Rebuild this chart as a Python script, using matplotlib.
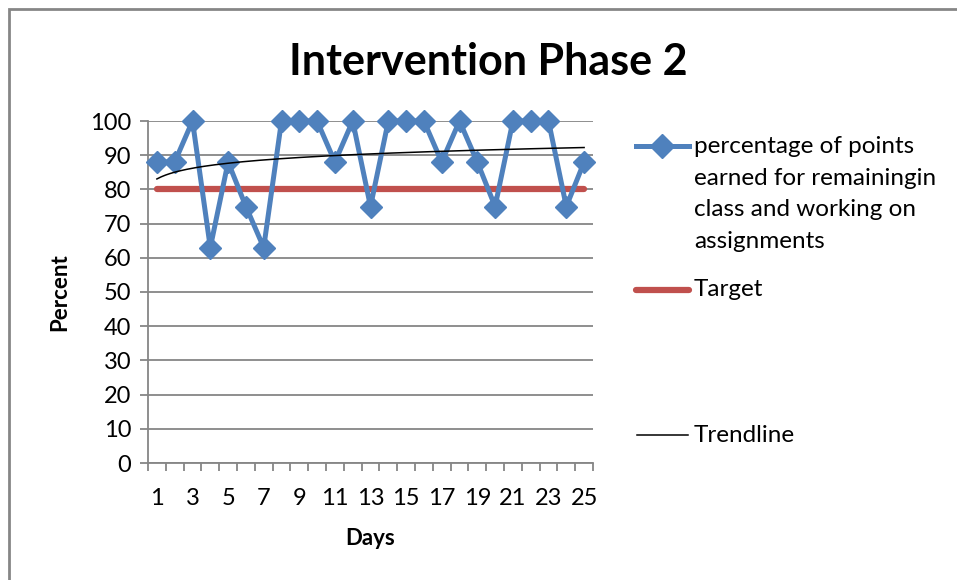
import matplotlib.pyplot as plt
import numpy as np
from matplotlib.lines import Line2D
from matplotlib.patches import Rectangle

plt.rcParams['font.family'] = ['Lato', 'DejaVu Sans']

days = np.arange(1, 26)
percent = [88, 88, 100, 63, 88, 75, 63, 100, 100, 100, 88, 100, 75,
           100, 100, 100, 88, 100, 88, 75, 100, 100, 100, 75, 88]
target = [80] * 25
series_label = 'percentage of points\nearned for remainingin\nclass and working on\nassignments'

blue = '#4F81BD'
red = '#C0504D'
grey = '#868686'

# logarithmic trendline like excel
a, b = np.polyfit(np.log(days), percent, 1)
trend_x = np.linspace(1, 25, 200)
trend_y = a * np.log(trend_x) + b

fig = plt.figure(figsize=(9.57, 5.8), dpi=100)
ax = fig.add_axes([148 / 957, 1 - 463 / 580, 445 / 957, 342 / 580])

ax.plot(days, target, color=red, lw=4.5, solid_capstyle='round', zorder=3)
ax.plot(days, percent, color=blue, lw=3.6, marker='D', ms=11, zorder=4,
        clip_on=False)
ax.plot(trend_x, trend_y, color='black', lw=1.1, zorder=5)

ax.set_xlim(0.5, 25.5)
ax.set_ylim(0, 100)
ax.set_yticks(range(0, 101, 10))
ax.set_xticks(days[::2])
ax.set_xticks(np.arange(0.5, 26, 1), minor=True)
ax.tick_params(axis='x', which='major', length=0, pad=18, labelsize=17)
ax.tick_params(axis='x', which='minor', length=6, color=grey, width=1.3)
ax.tick_params(axis='y', length=6, color=grey, width=1.3, labelsize=17, pad=6)
ax.grid(axis='y', color=grey, lw=1.3)
for s in ['top', 'right']:
    ax.spines[s].set_visible(False)
for s in ['left', 'bottom']:
    ax.spines[s].set_color(grey)
    ax.spines[s].set_linewidth(1.3)
ax.set_axisbelow(True)

ax.set_xlabel('Days', fontsize=16, fontweight='bold', labelpad=14)
ax.set_ylabel('Percent', fontsize=16, fontweight='bold', labelpad=14)
fig.text(488 / 957, 1 - 62 / 580, 'Intervention Phase 2', fontsize=31,
         fontweight='bold', ha='center', va='center')

# legend drawn by hand to match spacing
def fy(py):
    return 1 - py / 580

fig.add_artist(Line2D([636 / 957, 662 / 957, 689 / 957], [fy(146)] * 3,
                      color=blue, lw=3.6, marker='D', ms=12, markevery=[1],
                      transform=fig.transFigure))
fig.add_artist(Line2D([636 / 957, 689 / 957], [fy(290), fy(290)], color=red,
                      lw=4.5, solid_capstyle='round', transform=fig.transFigure))
fig.add_artist(Line2D([637 / 957, 688 / 957], [fy(435), fy(435)],
                      color='black', lw=1.1, transform=fig.transFigure))
fig.text(694 / 957, fy(136), series_label, fontsize=17.5, va='top',
         linespacing=1.62)
fig.text(694 / 957, fy(290), 'Target', fontsize=17.5, va='center')
fig.text(694 / 957, fy(435), 'Trendline', fontsize=17.5, va='center')

fig.add_artist(Rectangle((8.5 / 957, -0.1), 1.2, fy(9) + 0.1, fill=False,
                         edgecolor=grey, lw=2, transform=fig.transFigure))

fig.savefig('out.png', dpi=100)
